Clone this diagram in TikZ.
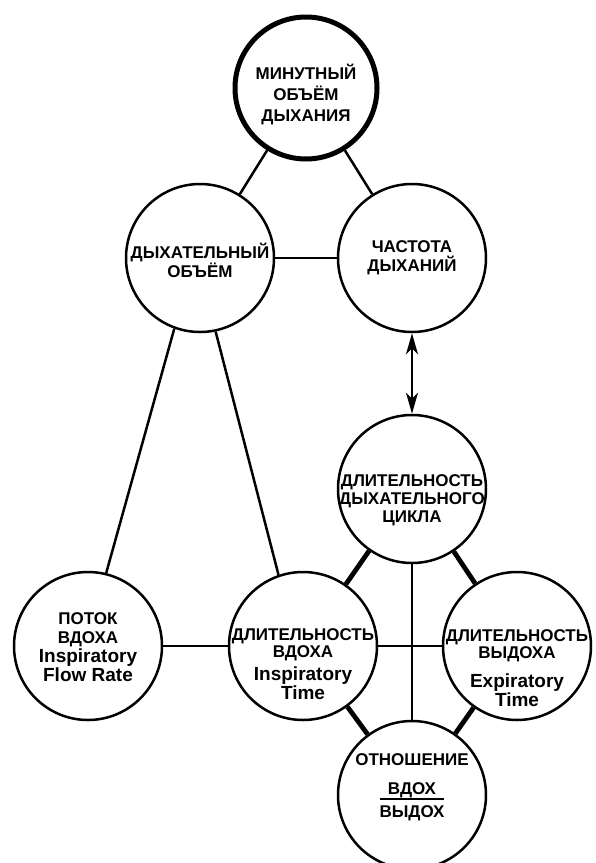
\documentclass[tikz,border=0pt]{standalone}
\usepackage{fontspec}
\setmainfont{Liberation Sans}
\usetikzlibrary{arrows.meta}

\newcommand{\en}[1]{{\fontsize{19}{21}\selectfont #1}}
\setlength{\arrayrulewidth}{1.7pt}

\begin{document}
\begin{tikzpicture}
		[x=1pt,y=-1pt,>={Stealth[length=21pt,width=12pt,inset=6pt]},
		bubble/.style={circle,draw,line width=2.5pt,minimum size=148pt,inner sep=0pt},
		chief/.style={bubble,line width=5pt,minimum size=142pt},
		caption/.style={align=center,font=\fontsize{17}{19}\selectfont\bfseries,inner sep=0pt},
		link/.style={line width=2.5pt},
		heavy/.style={line width=4.8pt},
		fine/.style={line width=2pt}]
		\useasboundingbox (0,0) rectangle (595,863);
		% circles
		\node[chief] (minute) at (306,88) {};
		\node[bubble] (tidal) at (200,258) {};
		\node[bubble] (rate) at (412,258) {};
		\node[bubble] (cycle) at (412,489) {};
		\node[bubble] (flow) at (88,646) {};
		\node[bubble] (insp) at (303,646) {};
		\node[bubble] (exp) at (517,646) {};
		\node[bubble] (ratio) at (412,795) {};
		% texts
		\node[caption] (minute text) at (306,94) {МИНУТНЫЙ\\[2pt]ОБЪЁМ\\[2pt]ДЫХАНИЯ};
		\node[caption] (tidal text) at (200,260) {ДЫХАТЕЛЬНЫЙ\\ОБЪЁМ};
		\node[caption] (rate text) at (412,258) {ЧАСТОТА\\ДЫХАНИЙ};
		\node[caption] (cycle text) at (412,500) {ДЛИТЕЛЬНОСТЬ\\[-1pt]ДЫХАТЕЛЬНОГО\\[-1pt]ЦИКЛА};
		\node[caption] (flow text) at (88,647) {ПОТОК\\ВДОХА\\\en{Inspiratory}\\\en{Flow Rate}};
		\node[caption] (insp text) at (303,664) {ДЛИТЕЛЬНОСТЬ\\[-2pt]ВДОХА\\[4pt]\en{Inspiratory}\\\en{Time}};
		\node[caption] (exp text) at (517,668) {ДЛИТЕЛЬНОСТЬ\\[-2pt]ВЫДОХА\\[10pt]\en{Expiratory}\\\en{Time}};
		\node[caption] (ratio text) at (412,760) {ОТНОШЕНИЕ};
		\node[caption,anchor=center] (ratio frac) at (412,802)
			{\begin{tabular}{@{}c@{}}ВДОХ\\[-2pt]\hline\rule{0pt}{17pt}ВЫДОХ\end{tabular}};
		% connectors
		\draw[link] (minute) -- (tidal);
		\draw[link] (minute) -- (rate);
		\draw[link] (tidal) -- (rate);
		\draw[link] (tidal.250) -- (flow.76);
		\draw[link] (tidal.282) -- (insp.109);
		\draw[link] (flow) -- (insp);
		\draw[fine] (insp) -- (exp);
		\draw[fine] (cycle) -- (ratio);
		\draw[heavy] (cycle) -- (insp);
		\draw[heavy] (cycle) -- (exp);
		\draw[heavy] (insp) -- (ratio);
		\draw[heavy] (exp) -- (ratio);
		\draw[line width=1.6pt,<->] (rate) -- (cycle);
\end{tikzpicture}
\end{document}
